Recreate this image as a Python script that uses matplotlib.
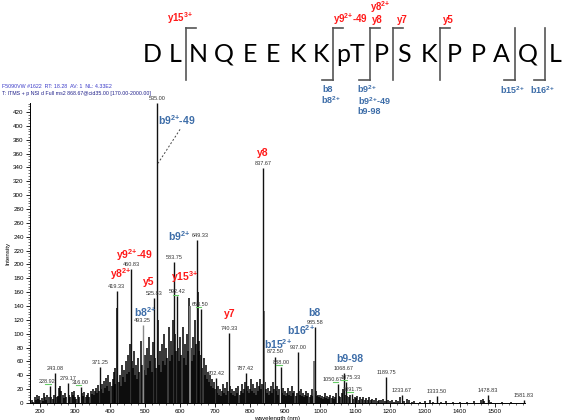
import matplotlib
matplotlib.use("Agg")
import matplotlib.pyplot as plt
from matplotlib.lines import Line2D
from matplotlib.ticker import MultipleLocator

plt.rcParams['font.family'] = ['Liberation Sans', 'DejaVu Sans']
plt.rcParams['mathtext.fontset'] = 'custom'
plt.rcParams['mathtext.rm'] = 'Liberation Sans'
plt.rcParams['mathtext.bf'] = 'Liberation Sans:bold'

# ---------------- data ----------------
# labelled peaks (m/z, intensity)
peak_mz = [228.92, 243.08, 279.17, 316.00, 371.25, 419.33, 460.83, 493.25, 525.83, 535.00,
           583.75, 592.42, 649.33, 658.50, 702.42, 740.33, 787.42, 837.67, 872.50, 888.00,
           937.00, 985.58, 1050.67, 1068.67, 1075.33, 1091.75, 1189.75, 1233.67, 1333.50,
           1478.83, 1581.83]
peak_int = [25, 43, 29, 23, 52, 162, 194, 112, 152, 433,
            203, 154, 235, 136, 36, 101, 43, 339, 67, 52,
            74, 110, 28, 43, 30, 13, 38, 12, 10,
            12, 4]
peak_labels = ['228.92', '243.08', '279.17', '316.00', '371.25', '419.33', '460.83', '493.25',
               '525.83', '535.00', '583.75', '592.42', '649.33', '658.50', '702.42', '740.33',
               '787.42', '837.67', '872.50', '888.00', '937.00', '985.58', '1050.67', '1068.67',
               '1075.33', '1091.75', '1189.75', '1233.67', '1333.50', '1478.83', '1581.83']
underlined = ['228.92', '316.00', '592.42', '658.50', '888.00', '1050.67', '1075.33', '1091.75']

# unlabelled background peaks (m/z, intensity)
bg_mz = [172, 176, 180, 184, 187, 190, 193, 197, 200, 204, 208, 211, 214, 218, 221, 225, 232,
         236, 239, 247, 251, 255, 258, 261, 264, 268, 271, 275, 282, 286, 290, 293, 297, 300,
         303, 307, 311, 319, 323, 326, 330, 333, 337, 340, 344, 347, 351, 354, 357,
         360, 363, 366, 369, 374, 377, 380, 383, 386, 389, 392, 395, 398, 401, 404, 407, 410,
         413, 415, 421, 424, 427, 430, 433, 436, 439, 442, 445, 448, 452, 455, 458, 463, 466,
         469, 472, 475, 478, 481, 484, 487, 490, 496, 499, 502, 505, 508, 511, 514, 517, 520,
         523, 528, 531, 537, 540, 543, 546, 549, 552, 555, 558, 561, 564, 567, 570, 573, 576,
         579, 586, 589, 595, 598, 601, 604, 607, 610, 613, 616, 619, 622, 626, 629, 632, 635,
         638, 641, 644, 646, 651, 653, 655, 661, 664, 667, 670, 673, 676, 679, 682, 685, 688,
         691, 694, 697, 700,
         705, 708, 711, 714, 717, 720, 723, 726, 729, 732, 735, 738, 743, 746, 749, 752, 755,
         758, 761, 764, 767, 770, 773, 776, 779, 782, 785, 790, 793, 796, 799, 802, 805, 808,
         811, 814, 817, 820, 823, 826, 829, 832, 835, 839, 842, 845, 848, 851, 854, 857, 860,
         863, 866, 869, 875, 878, 881, 884, 891, 894, 897, 900, 903, 906, 909, 912, 915, 918,
         921, 924, 927, 930, 933, 940, 943, 946, 949, 952, 955, 958, 961, 964, 967, 970, 973,
         976, 979, 982, 984, 988, 991, 994, 997, 1000, 1003, 1006, 1009, 1012, 1015, 1018,
         1021, 1024, 1027, 1030, 1033, 1036, 1039, 1042, 1046, 1054, 1058, 1062, 1065, 1071,
         1078, 1082, 1086, 1095, 1099, 1103, 1107, 1111, 1115, 1119, 1124, 1128, 1132, 1137,
         1141, 1146, 1150, 1155, 1160, 1165, 1170, 1175, 1180, 1185, 1195, 1200, 1206, 1212,
         1218, 1224, 1229, 1240, 1248, 1255, 1262, 1270, 1285, 1300, 1315, 1322, 1345, 1360,
         1380, 1400, 1420, 1440, 1460, 1465, 1470, 1482, 1490, 1520, 1545]
bg_int = [3, 5, 2, 8, 4, 12, 6, 10, 4, 7, 3, 14, 9, 5, 11, 8, 9,
          6, 12, 8, 10, 22, 25, 18, 12, 7, 15, 9, 12, 8, 16, 11, 18, 9,
          6, 12, 8, 14, 10, 16, 9, 12, 15, 8, 18, 13, 20, 11, 17,
          22, 14, 26, 18, 20, 28, 15, 32, 22, 36, 25, 40, 18, 30, 24, 35, 45,
          28, 50, 137, 30, 40, 25, 55, 38, 48, 30, 60, 42, 70, 45, 85, 60, 50,
          75, 40, 55, 35, 65, 45, 90, 55, 48, 70, 40, 80, 50, 95, 60, 70, 45,
          88, 65, 50, 120, 55, 75, 45, 85, 60, 100, 55, 80, 65, 110, 60, 90, 70,
          120, 100, 75, 80, 60, 95, 70, 110, 65, 85, 55, 100, 75, 152, 140, 80, 60,
          95, 70, 120, 85, 160, 90, 75, 70, 50, 65, 40, 55, 35, 45, 30, 40, 25,
          35, 22, 30, 20,
          15, 25, 12, 20, 10, 18, 28, 14, 22, 12, 30, 18, 25, 15, 20, 12, 18,
          10, 22, 14, 25, 12, 18, 28, 15, 20, 30, 18, 25, 14, 20, 35, 18, 28,
          15, 22, 12, 30, 18, 25, 35, 20, 28, 133, 30, 20, 15, 22, 12, 18, 25,
          14, 30, 20, 18, 25, 12, 20, 15, 22, 12, 18, 10, 15, 22, 12, 18, 10,
          25, 14, 18, 10, 15, 18, 12, 20, 10, 15, 8, 12, 18, 10, 14, 8, 12,
          20, 10, 15, 60, 18, 10, 12, 8, 12, 7, 10, 6, 9, 14, 7,
          10, 6, 9, 12, 7, 10, 6, 8, 14, 10, 8, 14, 20, 12,
          10, 8, 12, 6, 9, 7, 10, 5, 8, 6, 9, 5, 7, 4,
          8, 5, 6, 4, 7, 3, 5, 4, 6, 3, 4, 3, 5, 2,
          4, 3, 8, 3, 6, 5, 2, 3, 2, 3, 5, 2, 2, 3,
          2, 2, 2, 3, 4, 6, 3, 5, 2, 2, 2]

grey_peaks = [493.25, 629, 839, 984]

# ion annotations in the spectrum (text, m/z, intensity, colour)
ion_text = [r'b9$^{\mathbf{2{+}}}$-49', 'y8', r'b9$^{\mathbf{2{+}}}$', r'y9$^{\mathbf{2{+}}}$-49',
            r'y8$^{\mathbf{2{+}}}$', 'y5', r'y15$^{\mathbf{3{+}}}$', r'b8$^{\mathbf{2{+}}}$', 'y7',
            r'b15$^{\mathbf{2{+}}}$', r'b16$^{\mathbf{2{+}}}$', 'b8', 'b9-98']
ion_mz = [591, 837, 597, 469, 431, 509, 612, 500, 743, 880, 947, 983, 1086]
ion_int = [408, 361, 241, 214, 186, 175, 182, 131, 128, 85, 105, 130, 63]
ion_kind = ['b', 'y', 'b', 'y', 'y', 'y', 'y', 'b', 'y', 'b', 'b', 'b', 'b']

sequence = ['D', 'L', 'N', 'Q', 'E', 'E', 'K', 'K', 'pT', 'P', 'S', 'K', 'P', 'P', 'A', 'Q', 'L']

RED = '#FF1A1A'
BLUE = '#3D6DA8'

W, H = 567, 420
fig = plt.figure(figsize=(W / 100, H / 100), dpi=100)
ax = fig.add_axes([30 / W, 17 / H, 495 / W, 300 / H])

ax.vlines(bg_mz, 0, bg_int, color='black', lw=1.1)
gm = [m for m in bg_mz if m in grey_peaks]
gi = [bg_int[bg_mz.index(m)] for m in gm]
ax.vlines(gm, 0, gi, color='#8a8a8a', lw=1.3)

pk_colors = ['#8a8a8a' if m in grey_peaks else '#111111' for m in peak_mz]
ax.vlines(peak_mz, 0, peak_int, colors=pk_colors, lw=1.0, clip_on=False)

label_shift = {'1050.67': -4, '1075.33': 3, '228.92': -2, '649.33': 2}
for m, v, s in zip(peak_mz, peak_int, peak_labels):
    ax.annotate(s, (m, v), xytext=(label_shift.get(s, 0), 1.5), textcoords='offset points',
                ha='center', va='bottom', fontsize=4.0, color='#333333',
                annotation_clip=False)
    if s in underlined:
        ax.plot([m - 14, m + 2], [v + 2.5, v + 2.5], color='#66CC66', lw=0.8)

for t, m, v, k in zip(ion_text, ion_mz, ion_int, ion_kind):
    ax.text(m, v, t, ha='center', va='center', fontsize=7.5, fontweight='bold',
            color=RED if k == 'y' else BLUE)

ax.plot([600, 537], [395, 346], ls=(0, (2, 2)), color='#444444', lw=0.7)

ax.set_xlim(171, 1586)
ax.set_ylim(0, 433)
for sp in ['top', 'right']:
    ax.spines[sp].set_visible(False)
for sp in ['left', 'bottom']:
    ax.spines[sp].set_linewidth(0.7)
ax.xaxis.set_major_locator(MultipleLocator(100))
ax.xaxis.set_minor_locator(MultipleLocator(20))
ax.yaxis.set_major_locator(MultipleLocator(20))
ax.yaxis.set_minor_locator(MultipleLocator(4))
ax.tick_params(which='major', length=3, width=0.6, labelsize=4.5, pad=1.5)
ax.tick_params(which='minor', length=1.5, width=0.4)
ax.set_xticks([t for t in range(200, 1600, 100)])
ax.set_ylabel('Intensity', fontsize=4.5, labelpad=2)
ax.set_xlabel('wavelength (nm)', fontsize=4.5, labelpad=1)


def fx(x):
    return x / W


def fy(y):
    return 1 - y / H


fig.text(fx(2), fy(87), 'F5090VW #1622  RT: 18.28  AV: 1  NL: 4.33E2', fontsize=3.8,
         color='#3A3AC8', va='center')
fig.text(fx(2), fy(93), 'T: ITMS + p NSI d Full ms2 868.67@cid35.00 [170.00-2000.00]',
         fontsize=3.8, color='#20208A', va='center')

# peptide sequence
seq_x = [152, 175, 198, 224, 250, 273, 298, 321, 351, 381, 404, 429, 454, 478, 501, 528, 555]
for s, x in zip(sequence, seq_x):
    fig.text(fx(x), fy(54), s, fontsize=18, family=['Lato', 'DejaVu Sans'], ha='center',
             va='center', color='black')

bc = '#555555'


def bracket(x, top_hook, bottom_hook, ytop=28, ybot=80):
    fig.add_artist(Line2D([fx(x), fx(x)], [fy(ytop), fy(ybot)], color=bc, lw=1.2,
                          transform=fig.transFigure))
    if top_hook:
        fig.add_artist(Line2D([fx(x), fx(x + 10)], [fy(ytop), fy(ytop)], color=bc, lw=1.2,
                              transform=fig.transFigure))
    if bottom_hook:
        fig.add_artist(Line2D([fx(x - 11), fx(x)], [fy(ybot), fy(ybot)], color=bc, lw=1.2,
                              transform=fig.transFigure))


bracket(186, True, False)
bracket(333, True, True)
bracket(370, True, True)
bracket(393, True, False)
bracket(440, True, False)
bracket(515, False, True)
bracket(545, False, True)

top_lbls = [(r'y15$^{\mathbf{3{+}}}$', 180, 18), (r'y9$^{\mathbf{2{+}}}$-49', 350, 19),
            ('y8', 377, 20), (r'y8$^{\mathbf{2{+}}}$', 380, 7), ('y7', 402, 20), ('y5', 448, 20)]
for t, x, y in top_lbls:
    fig.text(fx(x), fy(y), t, fontsize=7, fontweight='bold', color=RED, ha='center',
             va='center')
bot_lbls = [('b8', 328, 89), (r'b8$^{\mathbf{2{+}}}$', 331, 100), (r'b9$^{\mathbf{2{+}}}$', 367, 89),
            (r'b9$^{\mathbf{2{+}}}$-49', 374, 101), ('b9-98', 369, 112),
            (r'b15$^{\mathbf{2{+}}}$', 512, 90), (r'b16$^{\mathbf{2{+}}}$', 542, 90)]
for t, x, y in bot_lbls:
    fig.text(fx(x), fy(y), t, fontsize=6.5, fontweight='bold', color=BLUE, ha='center',
             va='center')

fig.savefig('out.png', dpi=100, facecolor='white')
